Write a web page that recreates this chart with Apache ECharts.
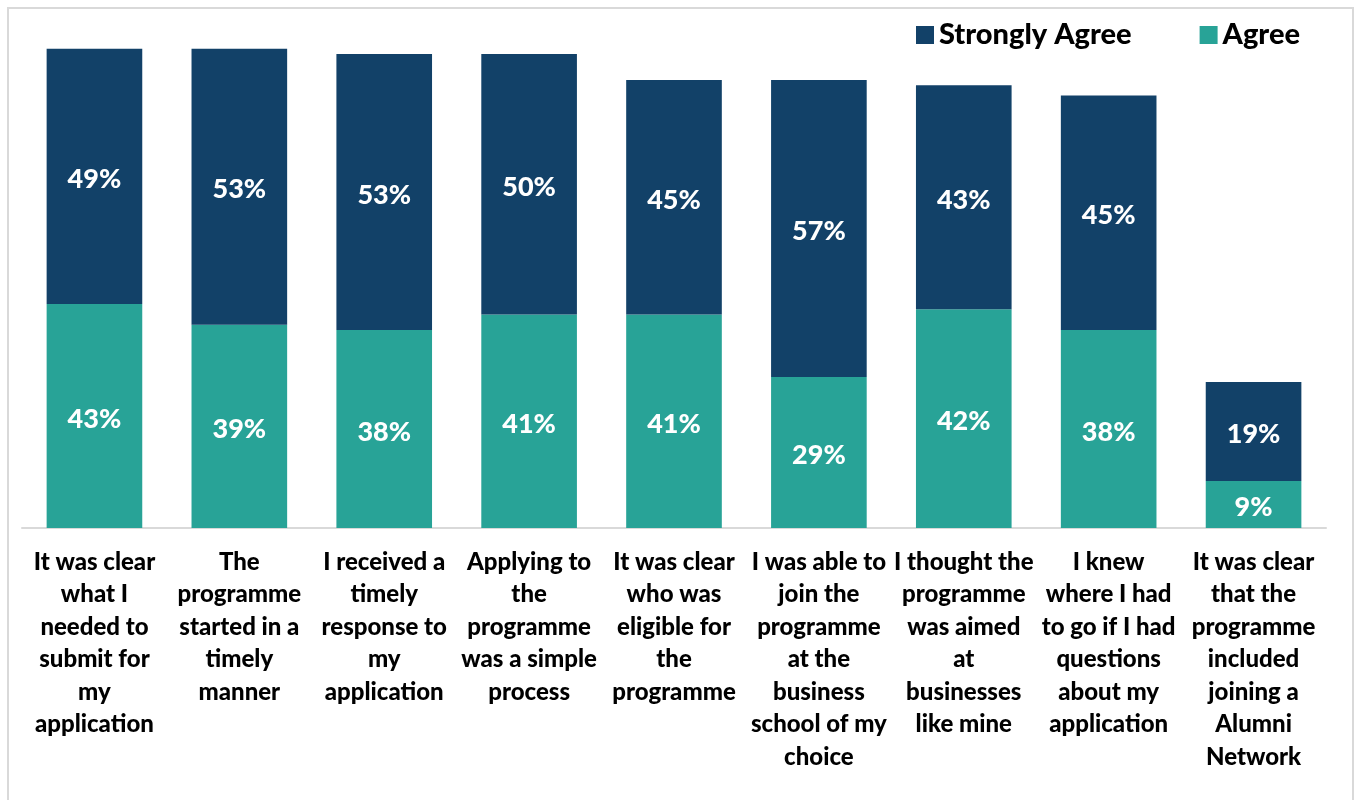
<!DOCTYPE html>
<html>
<head>
<meta charset="utf-8">
<script src="https://cdn.jsdelivr.net/npm/echarts@6/dist/echarts.min.js"></script>
<style>
  html, body { margin: 0; padding: 0; background: #fff; }
  #chart { width: 1356px; height: 800px; }
</style>
</head>
<body>
<div id="chart"></div>
<script>
// Survey statements (line breaks as laid out under each bar)
const categories = [
  "It was clear\nwhat I\nneeded to\nsubmit for\nmy\napplication",
  "The\nprogramme\nstarted in a\ntimely\nmanner",
  "I received a\ntimely\nresponse to\nmy\napplication",
  "Applying to\nthe\nprogramme\nwas a simple\nprocess",
  "It was clear\nwho was\neligible for\nthe\nprogramme",
  "I was able to\njoin the\nprogramme\nat the\nbusiness\nschool of my\nchoice",
  "I thought the\nprogramme\nwas aimed\nat\nbusinesses\nlike mine",
  "I knew\nwhere I had\nto go if I had\nquestions\nabout my\napplication",
  "It was clear\nthat the\nprogramme\nincluded\njoining a\nAlumni\nNetwork"
];

// Share of respondents (%)
const agree = [43, 39, 38, 41, 41, 29, 42, 38, 9];
const stronglyAgree = [49, 53, 53, 50, 45, 57, 43, 45, 19];

const FONT = "Lato, 'Open Sans', sans-serif";

const chart = echarts.init(document.getElementById('chart'), null, { renderer: 'canvas' });

const valueLabel = {
  show: true,
  position: 'inside',
  offset: [0, 3],
  color: '#ffffff',
  fontFamily: FONT,
  fontWeight: 900,
  fontSize: 27,
  formatter: p => p.value + '%'
};

chart.setOption({
  animation: false,
  backgroundColor: '#ffffff',
  graphic: [{
    type: 'rect',
    shape: { x: 8, y: 8, width: 1345, height: 800 },
    style: { fill: 'none', stroke: '#d9d9d9', lineWidth: 2 },
    silent: true
  }],
  legend: {
    top: 15,
    left: 911,
    itemWidth: 18,
    itemHeight: 18,
    itemGap: 68,
    icon: 'rect',
    textStyle: {
      fontFamily: FONT,
      fontWeight: 900,
      fontSize: 29,
      lineHeight: 30,
      color: '#000000'
    },
    data: ['Strongly Agree', 'Agree']
  },
  grid: { left: 22, right: 30, top: 7, bottom: 272, containLabel: false },
  xAxis: {
    type: 'category',
    data: categories,
    axisLine: { lineStyle: { color: '#d9d9d9', width: 2 } },
    axisTick: { show: false },
    axisLabel: {
      interval: 0,
      margin: 18,
      color: '#000000',
      fontFamily: FONT,
      fontWeight: 900,
      fontSize: 24,
      lineHeight: 32.5,
      verticalAlign: 'top'
    }
  },
  yAxis: {
    type: 'value',
    min: 0,
    max: 100,
    show: false,
    splitLine: { show: false }
  },
  series: [
    {
      name: 'Agree',
      type: 'bar',
      stack: 'total',
      data: agree,
      barCategoryGap: '34%',
      itemStyle: { color: '#28a397' },
      label: valueLabel
    },
    {
      name: 'Strongly Agree',
      type: 'bar',
      stack: 'total',
      data: stronglyAgree,
      barCategoryGap: '34%',
      itemStyle: { color: '#124168' },
      label: valueLabel
    }
  ]
});
</script>
</body>
</html>
